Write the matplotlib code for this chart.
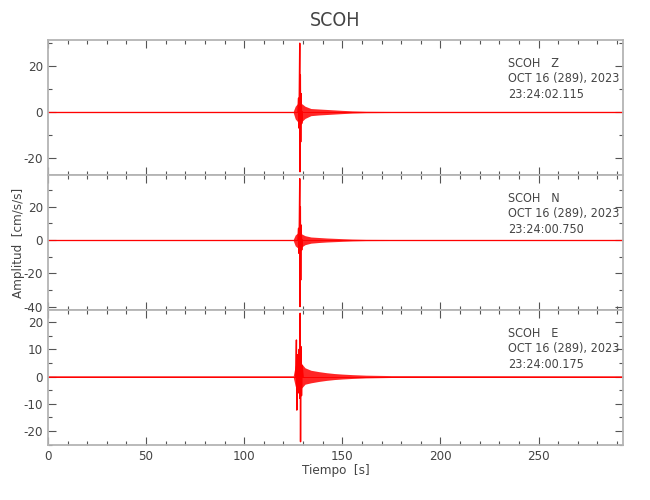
import matplotlib
matplotlib.use('Agg')
import matplotlib.pyplot as plt
import matplotlib.ticker as mticker

plt.rcParams['font.family'] = ['DejaVu Sans']
plt.rcParams['font.stretch'] = 'condensed'
plt.rcParams['axes.unicode_minus'] = False

# --- values ---
station = 'SCOH'
channels = ['Z', 'N', 'E']
fecha = 'OCT 16 (289), 2023'
horas = ['23:24:02.115', '23:24:00.750', '23:24:00.175']
t_end = 293

# envelope of the trace (time, upper, lower) per channel
env_t = [0, 125.0, 126.0, 127.0, 128.0, 129.5, 131.0, 134.0, 138.0, 142.0, 146.0, 150.0, 155.0, 162.0, 175.0, 293]
z_hi = [0.3, 0.3, 2.5, 3.5, 4.0, 3.5, 2.5, 1.5, 1.3, 1.1, 0.9, 0.7, 0.5, 0.35, 0.3, 0.3]
z_lo = [-0.3, -0.3, -3.0, -4.0, -5.0, -4.0, -2.8, -1.6, -1.3, -1.1, -0.9, -0.7, -0.5, -0.35, -0.3, -0.3]
n_hi = [0.4, 0.4, 3.0, 4.0, 4.5, 3.5, 2.6, 1.8, 1.5, 1.2, 1.0, 0.8, 0.6, 0.45, 0.4, 0.4]
n_lo = [-0.4, -0.4, -3.5, -4.5, -5.0, -4.0, -2.8, -1.9, -1.5, -1.2, -1.0, -0.8, -0.6, -0.45, -0.4, -0.4]
e_hi = [0.3, 0.3, 4.0, 6.0, 6.5, 4.5, 3.2, 2.3, 1.8, 1.4, 1.1, 0.9, 0.7, 0.5, 0.35, 0.3]
e_lo = [-0.3, -0.3, -3.5, -4.5, -5.0, -4.0, -2.8, -2.3, -1.8, -1.4, -1.1, -0.9, -0.7, -0.5, -0.35, -0.3]

# main spike peaks (time, amplitude)
z_st = [127.4, 127.7, 127.9, 128.1, 128.3, 128.45, 128.6, 128.8, 129.0, 129.3, 129.6]
z_sa = [0, 6, -7, 11, 29.9, -26.0, 16, -13, 8, -5, 0]
n_st = [127.4, 127.7, 127.9, 128.1, 128.3, 128.45, 128.6, 128.8, 129.0, 129.3, 129.6]
n_sa = [0, 7, -8, 12, 36.8, -40.0, 20, -24, 9, -6, 0]
e_st = [126.3, 126.6, 126.8, 127.2, 127.6, 128.0, 128.3, 128.5, 128.7, 128.9, 129.2, 129.5, 130.0]
e_sa = [0, 13.4, -12.3, 8, -6, 10, -8, 23.2, -23.9, 11, -7, 4, 0]

ylims = [(-27.4, 31.3), (-42, 39), (-25.1, 24.4)]
ymajor = [20, 20, 10]
yminor = [10, 10, 5]

hi = [z_hi, n_hi, e_hi]
lo = [z_lo, n_lo, e_lo]
st = [z_st, n_st, e_st]
sa = [z_sa, n_sa, e_sa]

fig = plt.figure(figsize=(6.5, 5), dpi=100)
lefts = 0.0738
width = 0.8846
bottoms = [0.65, 0.38, 0.11]
spine_c = '#b4b4b4'
txt_c = '#444444'

axes = []
for i in range(3):
    ax = fig.add_axes([lefts, bottoms[i], width, 0.27])
    ax.fill_between(env_t, lo[i], hi[i], color='red', alpha=0.85, linewidth=0)
    ax.plot([0, t_end], [0, 0], color='red', linewidth=0.7)
    ax.plot(st[i], sa[i], color='red', linewidth=1.0)
    ax.set_xlim(0, t_end)
    ax.set_ylim(*ylims[i])
    ax.xaxis.set_major_locator(mticker.MultipleLocator(50))
    ax.xaxis.set_minor_locator(mticker.MultipleLocator(10))
    ax.yaxis.set_major_locator(mticker.MultipleLocator(ymajor[i]))
    ax.yaxis.set_minor_locator(mticker.MultipleLocator(yminor[i]))
    ax.tick_params(which='both', direction='in', top=True, right=True,
                   color='#555555', labelcolor=txt_c, labelsize=9.5, width=0.8)
    ax.tick_params(which='major', length=6)
    ax.tick_params(which='minor', length=3)
    for s in ax.spines.values():
        s.set_color(spine_c)
        s.set_linewidth(1.3)
    if i < 2:
        ax.set_xticklabels([])
    ax.text(0.80, 0.875, station + '   ' + channels[i] + '\n' + fecha + '\n' + horas[i],
            transform=ax.transAxes, ha='left', va='top', fontsize=9,
            color=txt_c, linespacing=1.25)
    axes.append(ax)

axes[0].set_title(station, fontsize=14, color=txt_c, pad=10)
fig.text(0.028, 0.515, 'Amplitud  [cm/s/s]', rotation=90, ha='center', va='center',
         fontsize=9.5, color=txt_c)
axes[2].set_xlabel('Tiempo  [s]', fontsize=9.5, color=txt_c, labelpad=1)

fig.savefig('out.png', dpi=100)
